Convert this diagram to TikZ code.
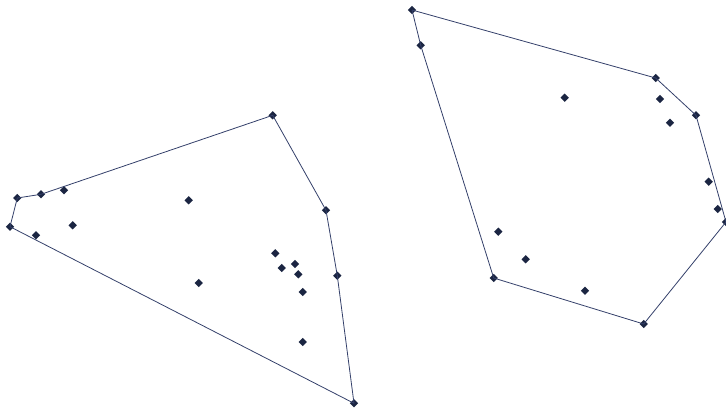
\documentclass[tikz,border=0pt]{standalone}
\usetikzlibrary{shapes.geometric}
\definecolor{pt}{HTML}{1B2542}
\definecolor{ln}{HTML}{34406A}
\begin{document}
\begin{tikzpicture}[x=1pt,y=-1pt,
  dot/.style={diamond,fill=pt,inner sep=0pt,minimum size=8.5pt},
  hull/.style={draw=ln,line width=0.8pt,line join=round}]
\useasboundingbox (0,0) rectangle (726,410);
% left set: hull vertices
\node[dot] (l1) at (272.7,115.3) {};
\node[dot] (l2) at (326,210.3) {};
\node[dot] (l3) at (337.3,275.7) {};
\node[dot] (l4) at (354,403.3) {};
\node[dot] (l5) at (10,226.7) {};
\node[dot] (l6) at (17.3,198) {};
\node[dot] (l7) at (41,194.3) {};
% left set: interior
\node[dot] (la) at (64,190.3) {};
\node[dot] (lb) at (72.7,225.3) {};
\node[dot] (lc) at (36,235.3) {};
\node[dot] (ld) at (188.7,200.3) {};
\node[dot] (le) at (198.7,283) {};
\node[dot] (lf) at (275.3,253.3) {};
\node[dot] (lg) at (281.7,268) {};
\node[dot] (lh) at (295,264) {};
\node[dot] (li) at (298.3,274.3) {};
\node[dot] (lj) at (302.7,292) {};
\node[dot] (lk) at (302.7,342) {};
\draw[hull] (l1.center) -- (l2.center) -- (l3.center) -- (l4.center) -- (l5.center) -- (l6.center) -- (l7.center) -- (l1.center);
% right set: hull vertices
\node[dot] (r1) at (412,10) {};
\node[dot] (r2) at (655.7,78) {};
\node[dot] (r3) at (696,115.3) {};
\node[dot] (r4) at (726,222) {};
\node[dot] (r5) at (643.7,324) {};
\node[dot] (r6) at (493.7,278) {};
\node[dot] (r7) at (420.7,45.3) {};
% right set: interior
\node[dot] (ra) at (564.7,97.7) {};
\node[dot] (rb) at (660,99) {};
\node[dot] (rc) at (670,122.7) {};
\node[dot] (rd) at (708.7,181.7) {};
\node[dot] (re) at (717.7,209) {};
\node[dot] (rf) at (498.3,231.7) {};
\node[dot] (rg) at (525.7,259.3) {};
\node[dot] (rh) at (585,290.7) {};
\draw[hull] (r1.center) -- (r2.center) -- (r3.center) -- (r4.center) -- (r5.center) -- (r6.center) -- (r7.center) -- (r1.center);
\end{tikzpicture}
\end{document}
